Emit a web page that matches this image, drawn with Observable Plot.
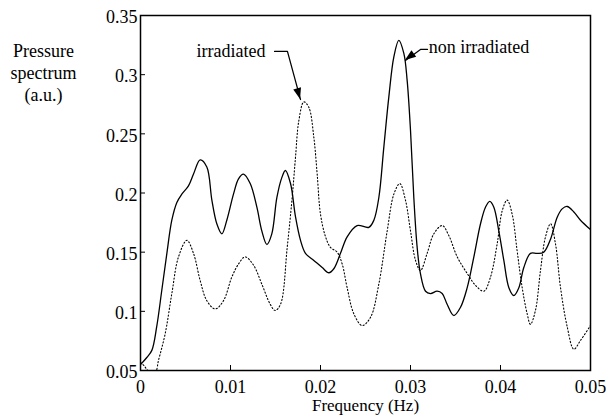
<!DOCTYPE html>
<html><head><meta charset="utf-8">
<script src="https://cdn.jsdelivr.net/npm/d3@7"></script>
<script src="https://cdn.jsdelivr.net/npm/@observablehq/plot@0.6"></script>
<style>body{margin:0;background:#fff} svg{font-family:"Liberation Serif","Times New Roman",serif}</style>
</head><body><div id="chart"></div>
<script>
// non irradiated (solid)
const freqNon = [0, 0.0007, 0.00126, 0.0018, 0.00237, 0.00293, 0.00348, 0.00404, 0.00459, 0.00533, 0.00589, 0.00663, 0.00737, 0.00793, 0.00848, 0.00904, 0.00959, 0.01033, 0.01089, 0.01144, 0.01219, 0.01293, 0.01348, 0.01404, 0.01459, 0.01515, 0.0157, 0.0161, 0.01667, 0.01722, 0.01778, 0.01833, 0.01926, 0.02019, 0.02093, 0.02148, 0.02222, 0.02296, 0.02407, 0.02537, 0.02593, 0.02648, 0.02704, 0.02759, 0.02815, 0.0287, 0.02926, 0.02963, 0.03, 0.03037, 0.03074, 0.0311, 0.03167, 0.03222, 0.03296, 0.03352, 0.03407, 0.03481, 0.03556, 0.0363, 0.03704, 0.03778, 0.03833, 0.03881, 0.03926, 0.03981, 0.04037, 0.04093, 0.04148, 0.04204, 0.04259, 0.04333, 0.04407, 0.04481, 0.04556, 0.0463, 0.04685, 0.04741, 0.04815, 0.04889, 0.05];
const specNon = [0.055, 0.061, 0.067, 0.087, 0.118, 0.149, 0.177, 0.192, 0.199, 0.206, 0.216, 0.228, 0.222, 0.194, 0.174, 0.1655, 0.177, 0.199, 0.212, 0.216, 0.208, 0.188, 0.168, 0.1565, 0.1655, 0.196, 0.213, 0.219, 0.208, 0.180, 0.160, 0.149, 0.143, 0.137, 0.1326, 0.136, 0.149, 0.163, 0.1725, 0.171, 0.177, 0.196, 0.239, 0.281, 0.315, 0.329, 0.318, 0.295, 0.253, 0.196, 0.154, 0.132, 0.117, 0.115, 0.117, 0.115, 0.106, 0.0965, 0.1035, 0.120, 0.146, 0.174, 0.188, 0.193, 0.188, 0.168, 0.143, 0.120, 0.1134, 0.120, 0.137, 0.149, 0.149, 0.150, 0.161, 0.1796, 0.1866, 0.1886, 0.184, 0.177, 0.169];

// irradiated (dotted)
const freqIrr = [0, 0.0004, 0.0008, 0.0013, 0.0017, 0.002, 0.00274, 0.00348, 0.00422, 0.00515, 0.00589, 0.00663, 0.00737, 0.0083, 0.00922, 0.01015, 0.01089, 0.01163, 0.01256, 0.01348, 0.01441, 0.01496, 0.01556, 0.0163, 0.01685, 0.01722, 0.01759, 0.01815, 0.0187, 0.01926, 0.01963, 0.02, 0.02056, 0.02111, 0.02185, 0.02241, 0.02296, 0.0237, 0.02463, 0.02556, 0.02648, 0.02741, 0.02815, 0.02881, 0.02944, 0.03, 0.03056, 0.03111, 0.03185, 0.03259, 0.03352, 0.03426, 0.03519, 0.0363, 0.03722, 0.03815, 0.03889, 0.03963, 0.04019, 0.04074, 0.0413, 0.04185, 0.04241, 0.04296, 0.04333, 0.04389, 0.04444, 0.045, 0.04556, 0.04611, 0.04667, 0.04741, 0.04815, 0.04889, 0.05];
const specIrr = [0.057, 0.054, 0.05, 0.047, 0.049, 0.0585, 0.081, 0.115, 0.146, 0.160, 0.149, 0.126, 0.109, 0.102, 0.109, 0.129, 0.140, 0.146, 0.139, 0.123, 0.106, 0.1007, 0.106, 0.154, 0.196, 0.230, 0.261, 0.277, 0.2725, 0.247, 0.216, 0.182, 0.163, 0.154, 0.150, 0.140, 0.120, 0.098, 0.088, 0.095, 0.123, 0.168, 0.199, 0.208, 0.194, 0.168, 0.143, 0.1345, 0.149, 0.1655, 0.1725, 0.164, 0.146, 0.132, 0.122, 0.117, 0.129, 0.157, 0.185, 0.194, 0.182, 0.151, 0.120, 0.098, 0.089, 0.101, 0.1345, 0.163, 0.174, 0.157, 0.120, 0.087, 0.068, 0.0754, 0.088];

const xTicks = [0, 0.01, 0.02, 0.03, 0.04, 0.05];
const xTickLabels = ["0", "0.01", "0.02", "0.03", "0.04", "0.05"];
const yTicks = [0.05, 0.1, 0.15, 0.2, 0.25, 0.3, 0.35];
const yTickLabels = ["0.05", "0.1", "0.15", "0.2", "0.25", "0.3", "0.35"];

const labelTexts = ["irradiated", "non irradiated"];
const labelX = [0.00622, 0.03203];
const labelY = [0.3149, 0.3179];

// arrow paths (last point is the tip)
const arrowIrrX = [0.01489, 0.01633, 0.01778];
const arrowIrrY = [0.3196, 0.3196, 0.2790];
const arrowNonX = [0.03189, 0.03111, 0.02944];
const arrowNonY = [0.3213, 0.3213, 0.3120];

const yTitle = "Pressure\nspectrum\n(a.u.)";
const xTitle = "Frequency (Hz)";

function arrowHeads(paths) {
  return (index, scales) => {
    const g = d3.create("svg:g");
    for (const [xs, ys] of paths) {
      const n = xs.length;
      const px = scales.x(xs[n - 1]), py = scales.y(ys[n - 1]);
      const qx = scales.x(xs[n - 2]), qy = scales.y(ys[n - 2]);
      const L = Math.hypot(px - qx, py - qy);
      const ux = (px - qx) / L, uy = (py - qy) / L;
      const len = 11, hw = 4;
      const bx = px - len * ux, by = py - len * uy;
      g.append("polygon")
        .attr("points", [[px, py], [bx - hw * uy, by + hw * ux], [bx + hw * uy, by - hw * ux]].map(p => p.join(",")).join(" "))
        .attr("fill", "black");
    }
    return g.node();
  };
}

const chart = Plot.plot({
  width: 609, height: 416,
  marginLeft: 140, marginRight: 19, marginTop: 15, marginBottom: 46,
  style: {fontFamily: '"Liberation Serif", "Times New Roman", serif', fontSize: "18px", background: "white", color: "black"},
  x: {domain: [0, 0.05]},
  y: {domain: [0.05, 0.35]},
  marks: [
    Plot.line({length: freqIrr.length}, {x: freqIrr, y: specIrr, stroke: "black", strokeWidth: 1.1, strokeDasharray: "1.2,2.2", curve: "catmull-rom", clip: true}),
    Plot.line({length: freqNon.length}, {x: freqNon, y: specNon, stroke: "black", strokeWidth: 1.3, curve: "catmull-rom", clip: true}),
    Plot.tickY(yTicks, {y: d => d, insetRight: 445, stroke: "black", strokeWidth: 1}),
    Plot.tickX(xTicks, {x: d => d, insetTop: 350, stroke: "black", strokeWidth: 1}),
    Plot.frame({stroke: "black", strokeWidth: 1.5}),
    Plot.axisX(xTicks, {tickSize: 0, tickPadding: 10, tickFormat: d => xTickLabels[xTicks.indexOf(d)], label: null, fontSize: 18}),
    Plot.axisY(yTicks, {tickSize: 0, tickPadding: 3, dy: 2, tickFormat: d => yTickLabels[yTicks.indexOf(d)], label: null, fontSize: 18}),
    Plot.line({length: 3}, {x: arrowIrrX, y: arrowIrrY, stroke: "black", strokeWidth: 1.2}),
    Plot.line({length: 3}, {x: arrowNonX, y: arrowNonY, stroke: "black", strokeWidth: 1.2}),
    arrowHeads([[arrowIrrX, arrowIrrY], [arrowNonX, arrowNonY]]),
    Plot.text({length: 2}, {x: labelX, y: labelY, text: labelTexts, textAnchor: "start", lineAnchor: "bottom", fontSize: 18, fill: "black"}),
    Plot.text([yTitle], {text: d => d, frameAnchor: "top-left", dx: -97, dy: 26, textAnchor: "middle", lineAnchor: "top", lineHeight: 1.22, fontSize: 18, fill: "black"}),
    Plot.text([xTitle], {text: d => d, frameAnchor: "bottom", dy: 40, lineAnchor: "bottom", fontSize: 17, fill: "black"})
  ]
});
document.getElementById("chart").appendChild(chart);
</script>
</body></html>
